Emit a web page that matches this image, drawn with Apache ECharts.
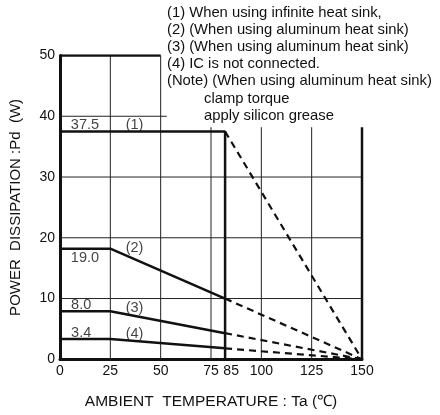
<!DOCTYPE html>
<html>
<head>
<meta charset="utf-8">
<script src="https://cdn.jsdelivr.net/npm/echarts@6/dist/echarts.min.js"></script>
<style>
  html, body { margin: 0; padding: 0; background: #fff; }
  #main { width: 440px; height: 415px; }
</style>
</head>
<body>
<div id="main"></div>
<script>
// tick labels
var xTickLabels = [0, 25, 50, 75, 85, 100, 125, 150];
var yTickLabels = [0, 10, 20, 30, 40, 50];

// grid lines (value, where the line ends)
var vGridX = [25, 50, 75, 100, 125];
var vGridTop = [50, 50, 38.2, 38.2, 38.2];
var hGridY = [10, 20, 30, 40];
var hGridEnd = [150, 150, 150, 53];
var topBorder = [[0, 50], [50, 50]];
var rightBorder = [[150, 0], [150, 38.2]];

// derating curves: temperature break points and Pd values
var curveTemp = [0, 25, 82];
var curve1Pd = [37.5, 37.5, 37.5];
var curve2Pd = [18.2, 18.2, 10.0];
var curve3Pd = [7.9, 7.9, 4.3];
var curve4Pd = [3.35, 3.35, 1.8];
var endTemp = 150;
var endPd = 0;

// text on the curves
var noteText = ['37.5', '(1)', '19.0', '(2)', '8.0', '(3)', '3.4', '(4)'];
var noteX = [12.4, 37, 12.4, 37, 10.5, 37, 10.5, 37];
var noteY = [38.6, 38.6, 16.7, 18.4, 8.9, 8.5, 4.3, 4.1];

var legendLines = [
    '(1) When using infinite heat sink,',
    '(2) (When using aluminum heat sink)',
    '(3) (When using aluminum heat sink)',
    '(4) IC is not connected.',
    '(Note) (When using aluminum heat sink)',
    '         clamp torque',
    '         apply silicon grease'
];

var font = '"Liberation Sans", Arial, sans-serif';
var series = [];

function seg(data, width, color, dashed) {
    series.push({
        type: 'line',
        data: data,
        symbol: 'none',
        silent: true,
        animation: false,
        lineStyle: { width: width, color: color, type: dashed ? [7, 5] : 'solid' }
    });
}

// grid
for (var i = 0; i < vGridX.length; i++) {
    seg([[vGridX[i], 0], [vGridX[i], vGridTop[i]]], 1, '#222');
}
for (var j = 0; j < hGridY.length; j++) {
    seg([[0, hGridY[j]], [hGridEnd[j], hGridY[j]]], 1, '#222');
}
seg(topBorder, 2.5, '#111');
seg(rightBorder, 2.5, '#111');

// curves
function curve(pd, drop) {
    var pts = [];
    for (var k = 0; k < curveTemp.length; k++) pts.push([curveTemp[k], pd[k]]);
    var last = pts[pts.length - 1];
    if (drop) pts.push([last[0], 0]);
    seg(pts, 2.5, '#111');
    seg([last, [endTemp, endPd]], 2.2, '#111', true);
}
curve(curve1Pd, true);
curve(curve2Pd);
curve(curve3Pd);
curve(curve4Pd);

// labels
var noteData = [];
for (var n = 0; n < noteText.length; n++) {
    noteData.push({ value: [noteX[n], noteY[n]], name: noteText[n] });
}
series.push({
    type: 'scatter',
    data: noteData,
    symbolSize: 0,
    silent: true,
    animation: false,
    label: {
        show: true,
        position: 'inside',
        formatter: '{b}',
        color: '#111',
        fontSize: 14.5,
        fontFamily: font
    }
});

var myChart = echarts.init(document.getElementById('main'));

var option = {
    backgroundColor: '#fff',
    animation: false,
    grid: { left: 58, right: 78, top: 55.5, bottom: 55.7 },
    xAxis: {
        type: 'value',
        min: 0,
        max: 150,
        interval: 5,
        name: 'AMBIENT  TEMPERATURE : Ta (\u2103)',
        nameLocation: 'middle',
        nameGap: 34,
        nameTextStyle: { color: '#111', fontSize: 15.5, fontFamily: font },
        axisLine: { lineStyle: { color: '#111', width: 3 } },
        axisTick: { show: false },
        splitLine: { show: false },
        axisLabel: {
            color: '#111',
            fontSize: 14,
            fontFamily: font,
            margin: 5,
            formatter: function (v) {
                return xTickLabels.indexOf(v) >= 0 ? String(v) : '';
            }
        }
    },
    yAxis: {
        type: 'value',
        min: 0,
        max: 50,
        interval: 10,
        name: 'POWER  DISSIPATION :Pd  (W)',
        nameLocation: 'middle',
        nameGap: 37,
        nameTextStyle: { color: '#111', fontSize: 15, fontFamily: font },
        axisLine: { show: true, lineStyle: { color: '#111', width: 3 } },
        axisTick: { show: false },
        splitLine: { show: false },
        axisLabel: {
            color: '#111',
            fontSize: 14,
            fontFamily: font,
            margin: 5,
            formatter: function (v) {
                return yTickLabels.indexOf(v) >= 0 ? String(v) : '';
            }
        }
    },
    graphic: [{
        type: 'text',
        left: 167,
        top: 4,
        style: {
            text: legendLines.join('\n'),
            fill: '#111',
            fontSize: 14.8,
            lineHeight: 17.2,
            fontFamily: font
        }
    }],
    series: series
};

myChart.setOption(option);
</script>
</body>
</html>
